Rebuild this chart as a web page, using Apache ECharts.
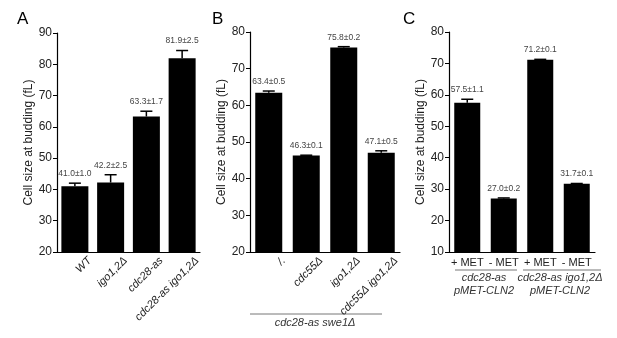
<!DOCTYPE html>
<html>
<head>
<meta charset="utf-8">
<script src="https://cdn.jsdelivr.net/npm/echarts@6/dist/echarts.min.js"></script>
<style>
  html, body { margin: 0; padding: 0; background: #fff; }
  #chart { width: 617px; height: 338px; }
</style>
</head>
<body>
<div id="chart"></div>
<script>
// panel A
const catsA = ['WT', 'igo1,2Δ', 'cdc28-as', 'cdc28-as igo1,2Δ']
const meanA = [41.0, 42.2, 63.3, 81.9]
const errA = [1.0, 2.5, 1.7, 2.5]
const ticksA = [20, 90, 10]

// panel B
const catsB = ['/.', 'cdc55Δ', 'igo1,2Δ', 'cdc55Δ igo1,2Δ']
const meanB = [63.4, 46.3, 75.8, 47.1]
const errB = [0.5, 0.1, 0.2, 0.5]
const ticksB = [20, 80, 10]

// panel C
const catsC = ['+ MET', '- MET', '+ MET', '- MET']
const meanC = [57.5, 27.0, 71.2, 31.7]
const errC = [1.1, 0.2, 0.1, 0.1]
const ticksC = [10, 80, 10]

const FONT = '"Liberation Sans", Arial, sans-serif'

const chart = echarts.init(document.getElementById('chart'))

const grids = [
  { left: 57, top: 33, width: 143, height: 219 },
  { left: 250, top: 32, width: 150, height: 220 },
  { left: 449, top: 32, width: 146, height: 220 }
]

const makeX = (i, cats, showLabel) => ({
  type: 'category',
  gridIndex: i,
  data: cats,
  axisLine: { lineStyle: { color: '#000', width: 1.2 } },
  axisTick: { alignWithLabel: true, length: 4, lineStyle: { color: '#000' } },
  axisLabel: { show: showLabel, interval: 0, margin: 5, fontFamily: FONT, fontSize: 11, color: '#222' }
})

const makeY = (i, t) => ({
  type: 'value',
  gridIndex: i,
  min: t[0],
  max: t[1],
  interval: t[2],
  name: 'Cell size at budding (fL)',
  nameLocation: 'middle',
  nameGap: 22,
  nameTextStyle: { fontFamily: FONT, fontSize: 12, color: '#222' },
  splitLine: { show: false },
  axisLine: { show: true, lineStyle: { color: '#000', width: 1.2 } },
  axisTick: { show: true, length: 4, lineStyle: { color: '#000' } },
  axisLabel: { fontFamily: FONT, fontSize: 12, color: '#222', margin: 5 }
})

const barSeries = (i, data, w) => ({
  type: 'bar',
  xAxisIndex: i,
  yAxisIndex: i,
  data: data,
  barWidth: w,
  itemStyle: { color: '#000' },
  silent: true
})

// error bar (upper half) plus mean±sem text
const errSeries = (i, mean, err) => ({
  type: 'custom',
  xAxisIndex: i,
  yAxisIndex: i,
  data: mean.map((m, k) => [k, m, err[k]]),
  renderItem: (params, api) => {
    const base = api.coord([api.value(0), api.value(1)])
    const top = api.coord([api.value(0), api.value(1) + api.value(2)])
    const half = 6
    const txt = api.value(1).toFixed(1) + '±' + api.value(2).toFixed(1)
    return {
      type: 'group',
      children: [
        { type: 'line', shape: { x1: base[0], y1: base[1], x2: base[0], y2: top[1] }, style: { stroke: '#000', lineWidth: 1.5 } },
        { type: 'line', shape: { x1: base[0] - half, y1: top[1], x2: base[0] + half, y2: top[1] }, style: { stroke: '#000', lineWidth: 1.5 } },
        { type: 'text', x: base[0], y: top[1] - 5, style: { text: txt, align: 'center', verticalAlign: 'bottom', fontFamily: FONT, fontSize: 8.5, fill: '#444' } }
      ]
    }
  },
  z: 3,
  silent: true
})

// slanted italic category names, top-right corner a little right of the tick
const slantLabels = (i, cats, ymin) => ({
  type: 'custom',
  xAxisIndex: i,
  yAxisIndex: i,
  data: cats.map((c, k) => [k, ymin]),
  renderItem: (params, api) => {
    const p = api.coord([api.value(0), api.value(1)])
    return {
      type: 'text',
      x: p[0] + 11,
      y: p[1] + 3,
      rotation: Math.PI / 4,
      style: { text: cats[params.dataIndex], align: 'right', verticalAlign: 'top', fontFamily: FONT, fontSize: 11, fontStyle: 'italic', fill: '#222' }
    }
  },
  silent: true
})

const panelLetter = (t, x) => ({ type: 'text', left: x, top: 11, style: { text: t, fontFamily: FONT, fontSize: 17, fill: '#000' } })
const note = (t, cx, y) => ({ type: 'text', x: cx, y: y, style: { text: t, align: 'center', verticalAlign: 'middle', fontFamily: FONT, fontSize: 11, fontStyle: 'italic', fill: '#333' } })
const rule = (x1, x2, y) => ({ type: 'line', shape: { x1: x1, y1: y, x2: x2, y2: y }, style: { stroke: '#777', lineWidth: 1 } })

chart.setOption({
  animation: false,
  grid: grids,
  xAxis: [makeX(0, catsA, false), makeX(1, catsB, false), makeX(2, catsC, true)],
  yAxis: [makeY(0, ticksA), makeY(1, ticksB), makeY(2, ticksC)],
  series: [
    barSeries(0, meanA, 27), errSeries(0, meanA, errA), slantLabels(0, catsA, ticksA[0]),
    barSeries(1, meanB, 27), errSeries(1, meanB, errB), slantLabels(1, catsB, ticksB[0]),
    barSeries(2, meanC, 26), errSeries(2, meanC, errC)
  ],
  graphic: [
    panelLetter('A', 17), panelLetter('B', 212), panelLetter('C', 403),
    rule(250, 382, 314), note('cdc28-as swe1Δ', 315, 323),
    rule(455, 517, 270), rule(523, 601, 270),
    note('cdc28-as', 484, 278), note('pMET-CLN2', 484, 291),
    note('cdc28-as igo1,2Δ', 560, 278), note('pMET-CLN2', 560, 291)
  ]
})
</script>
</body>
</html>
